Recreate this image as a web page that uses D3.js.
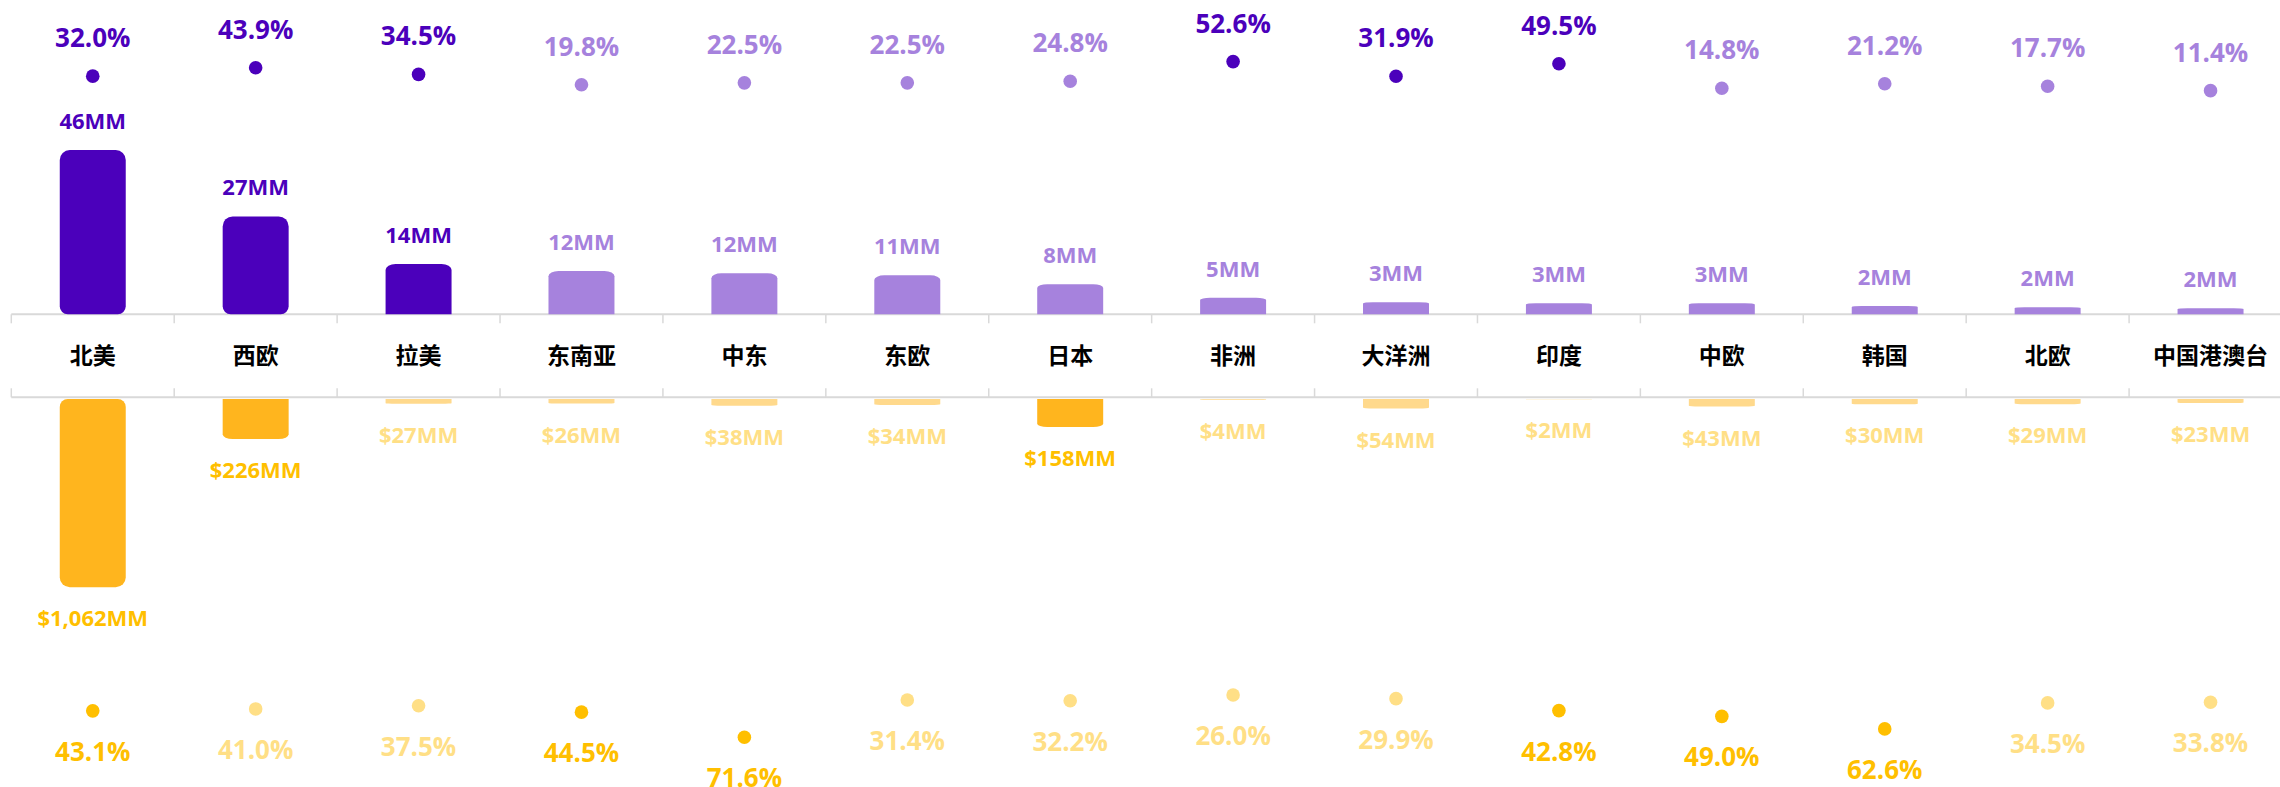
<!DOCTYPE html>
<html>
<head>
<meta charset="utf-8">
<script src="https://cdn.jsdelivr.net/npm/d3@7/dist/d3.min.js"></script>
<style>
  html, body { margin: 0; padding: 0; background: #ffffff; }
  svg { display: block; }
</style>
</head>
<body>
<div id="chart"></div>
<script>
// ---------------- data ----------------
const categories = ["北美","西欧","拉美","东南亚","中东","东欧","日本","非洲","大洋洲","印度","中欧","韩国","北欧","中国港澳台"];
const usersMM = [46, 27.4, 14.1, 12.1, 11.5, 10.9, 8.4, 4.6, 3.4, 3.1, 3.1, 2.3, 2.0, 1.7];
const userGrowthPct = [32.0, 43.9, 34.5, 19.8, 22.5, 22.5, 24.8, 52.6, 31.9, 49.5, 14.8, 21.2, 17.7, 11.4];
const revenueMM = [1062, 226, 27, 26, 38, 34, 158, 4, 54, 2, 43, 30, 29, 23];
const revenueGrowthPct = [43.1, 41.0, 37.5, 44.5, 71.6, 31.4, 32.2, 26.0, 29.9, 42.8, 49.0, 62.6, 34.5, 33.8];

// ---------------- styling ----------------
const W = 2280, H = 787;
const purpleDark = "#4B00BB", purpleLight = "#A682DD";
const orangeBarDark = "#FFB51E", orangeBarLight = "#FFD98C";
const orangeTextDark = "#FFBF00", orangeTextLight = "#FFDF86";
const gridColor = "#D9D9D9";
const latinFont = "'Open Sans', 'Noto Sans', sans-serif";
const cjkFont = "'Noto Sans CJK SC', 'Noto Sans', sans-serif";

const svg = d3.select("#chart").append("svg").attr("width", W).attr("height", H);

// ---------------- scales ----------------
const x = d3.scaleBand().domain(categories).range([11.3, 2292]).paddingInner(0.595).paddingOuter(0.2975);
const xCell = d3.scaleBand().domain(categories).range([11.3, 2292]).padding(0);
const yUsers = d3.scaleLinear().domain([0, 46]).range([314.3, 150]);
const yTopPct = d3.scaleLinear().domain([0, 100]).range([98.7, 28.2]);
const yRev = d3.scaleLinear().domain([0, 1062]).range([399, 587.3]);
const yBotPct = d3.scaleLinear().domain([0, 100]).range([671, 763.5]);

const axisTop = 314.3, axisBottom = 397.3;

const rows = categories.map((c, i) => ({
  cat: c, users: usersMM[i], upct: userGrowthPct[i], rev: revenueMM[i], rpct: revenueGrowthPct[i]
}));

const top3Users = usersMM.slice().sort((a, b) => b - a)[2];
const top3Rev = revenueMM.slice().sort((a, b) => b - a)[2];
const meanUpct = d3.mean(userGrowthPct);
const meanRpct = d3.mean(revenueGrowthPct);

const fmtMM = d3.format(",.0f");
const fmtPct = d => d3.format(".1f")(d) + "%";

function roundedBar(x0, x1, yA, yB, rA, rB) {
  return `M${x0},${yA + rA[1]} A${rA[0]},${rA[1]} 0 0 1 ${x0 + rA[0]},${yA} ` +
         `L${x1 - rA[0]},${yA} A${rA[0]},${rA[1]} 0 0 1 ${x1},${yA + rA[1]} ` +
         `L${x1},${yB - rB[1]} A${rB[0]},${rB[1]} 0 0 1 ${x1 - rB[0]},${yB} ` +
         `L${x0 + rB[0]},${yB} A${rB[0]},${rB[1]} 0 0 1 ${x0},${yB - rB[1]} Z`;
}
function farR(h) { return [10, Math.min(10, h * 0.12)]; }
function nearR(h) { return h >= 80 ? [8, 8] : [0, 0]; }

// ---------------- axis lines & ticks ----------------
const g = svg.append("g");
[axisTop, axisBottom].forEach(yy => {
  g.append("line").attr("x1", 11.3).attr("x2", W).attr("y1", yy).attr("y2", yy)
    .attr("stroke", gridColor).attr("stroke-width", 2);
});
const bounds = categories.map(c => xCell(c)).concat([xCell.range()[1]]);
g.selectAll(".tickTop").data(bounds).join("line")
  .attr("x1", d => d).attr("x2", d => d).attr("y1", axisTop).attr("y2", axisTop + 9)
  .attr("stroke", gridColor).attr("stroke-width", 1.5);
g.selectAll(".tickBot").data(bounds).join("line")
  .attr("x1", d => d).attr("x2", d => d).attr("y1", axisBottom - 9).attr("y2", axisBottom)
  .attr("stroke", gridColor).attr("stroke-width", 1.5);

// ---------------- category labels ----------------
g.selectAll(".cat").data(rows).join("text")
  .attr("x", d => x(d.cat) + x.bandwidth() / 2)
  .attr("y", 354)
  .attr("text-anchor", "middle")
  .attr("dominant-baseline", "central")
  .attr("font-family", cjkFont).attr("font-weight", 700).attr("font-size", 23)
  .attr("fill", "#000")
  .text(d => d.cat);

// ---------------- user bars (purple, upward) ----------------
g.selectAll(".ubar").data(rows).join("path")
  .attr("d", d => {
    const x0 = x(d.cat), x1 = x0 + x.bandwidth();
    const yT = yUsers(d.users), yB = yUsers(0), h = yB - yT;
    return roundedBar(x0, x1, yT, yB, farR(h), nearR(h));
  })
  .attr("fill", d => d.users >= top3Users ? purpleDark : purpleLight);

g.selectAll(".ulab").data(rows).join("text")
  .attr("x", d => x(d.cat) + x.bandwidth() / 2)
  .attr("y", d => yUsers(d.users) - 21)
  .attr("text-anchor", "middle")
  .attr("font-family", latinFont).attr("font-weight", 700).attr("font-size", 22)
  .attr("fill", d => d.users >= top3Users ? purpleDark : purpleLight)
  .text(d => fmtMM(d.users) + "MM");

g.selectAll(".udot").data(rows).join("circle")
  .attr("cx", d => x(d.cat) + x.bandwidth() / 2)
  .attr("cy", d => yTopPct(d.upct))
  .attr("r", 6.8)
  .attr("fill", d => d.upct > meanUpct ? purpleDark : purpleLight);

g.selectAll(".upct").data(rows).join("text")
  .attr("x", d => x(d.cat) + x.bandwidth() / 2)
  .attr("y", d => yTopPct(d.upct) - 29)
  .attr("text-anchor", "middle")
  .attr("font-family", latinFont).attr("font-weight", 700).attr("font-size", 26)
  .attr("fill", d => d.upct > meanUpct ? purpleDark : purpleLight)
  .text(d => fmtPct(d.upct));

// ---------------- revenue bars (orange, downward) ----------------
g.selectAll(".rbar").data(rows).join("path")
  .attr("d", d => {
    const x0 = x(d.cat), x1 = x0 + x.bandwidth();
    const yT = yRev(0), yB = yRev(d.rev), h = yB - yT;
    return roundedBar(x0, x1, yT, yB, nearR(h), farR(h));
  })
  .attr("fill", d => d.rev >= top3Rev ? orangeBarDark : orangeBarLight);

g.selectAll(".rlab").data(rows).join("text")
  .attr("x", d => x(d.cat) + x.bandwidth() / 2)
  .attr("y", d => yRev(d.rev) + 39)
  .attr("text-anchor", "middle")
  .attr("font-family", latinFont).attr("font-weight", 700).attr("font-size", 22)
  .attr("fill", d => d.rev >= top3Rev ? orangeTextDark : orangeTextLight)
  .text(d => "$" + fmtMM(d.rev) + "MM");

g.selectAll(".rdot").data(rows).join("circle")
  .attr("cx", d => x(d.cat) + x.bandwidth() / 2)
  .attr("cy", d => yBotPct(d.rpct))
  .attr("r", 6.8)
  .attr("fill", d => d.rpct > meanRpct ? orangeTextDark : orangeTextLight);

g.selectAll(".rpct").data(rows).join("text")
  .attr("x", d => x(d.cat) + x.bandwidth() / 2)
  .attr("y", d => yBotPct(d.rpct) + 50)
  .attr("text-anchor", "middle")
  .attr("font-family", latinFont).attr("font-weight", 700).attr("font-size", 26)
  .attr("fill", d => d.rpct > meanRpct ? orangeTextDark : orangeTextLight)
  .text(d => fmtPct(d.rpct));
</script>
</body>
</html>
